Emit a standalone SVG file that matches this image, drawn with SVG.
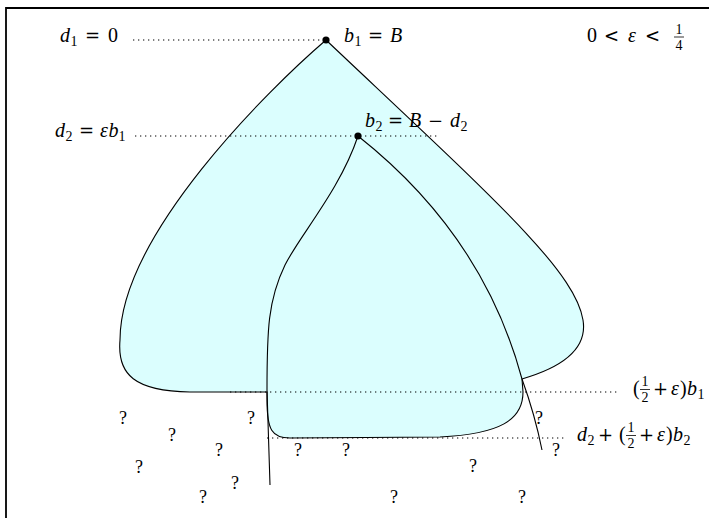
<svg xmlns="http://www.w3.org/2000/svg" width="709" height="518" viewBox="0 0 709 518">
<style>
text{font-family:"Liberation Serif","DejaVu Serif",serif;font-size:20px;fill:#000}
.i{font-style:italic}
.o{font-family:"DejaVu Serif",serif;font-size:18px}
.s{font-size:14px}
.f{font-size:14px;text-anchor:middle}
.q{font-size:18px;text-anchor:middle}
.dot{fill:none;stroke:#000;stroke-width:1.2;stroke-dasharray:1.3 3.7}
.ln{fill:none;stroke:#000;stroke-width:1.1}
.rg{fill:#dbfefe;stroke:#000;stroke-width:1.1}
.fl{stroke:#000;stroke-width:0.8}
</style>
<rect width="709" height="518" fill="#fff"/>
<path d="M6,518 L6,8 L709,8" fill="none" stroke="#000" stroke-width="1.8"/>
<g id="region">
<path class="rg" d="M326,40 C270,88 120,235 120,340 C117,375 135,391 190,392 L267,392 L267,400 C267,430 272,438 290,438 L440,437 C500,434 523,420 523,392 L522,379 C560,368 588,350 583,320 C575,270 490,195 326,40 Z"/>
</g>
<g id="connectors">
<path class="ln" d="M358,136 C340,190 300,235 285,265 C268,300 267,330 267,390 L270,485"/>
<path class="ln" d="M358,136 C420,185 490,260 522,379 Q535,415 542,450"/>
<line class="dot" x1="133" y1="40" x2="322" y2="40"/>
<line class="dot" x1="135" y1="136" x2="440" y2="136"/>
<line class="dot" x1="230" y1="392" x2="617" y2="392"/>
<line class="dot" x1="267" y1="438" x2="565" y2="438"/>
</g>
<g id="b1">
<circle cx="326" cy="40" r="3.6"/>
<text y="42"><tspan class="i" x="344">b</tspan><tspan class="s" x="354.5" y="46">1</tspan><tspan class="o" x="368" y="42">=</tspan><tspan class="i" x="390">B</tspan></text>
</g>
<g id="b2">
<circle cx="358" cy="136" r="3.6"/>
<text y="127"><tspan class="i" x="365">b</tspan><tspan class="s" x="375.5" y="131">2</tspan><tspan class="o" x="388" y="127">=</tspan><tspan class="i" x="409">B</tspan><tspan class="o" x="428">−</tspan><tspan class="i" x="450">d</tspan><tspan class="s" x="460.5" y="131">2</tspan></text>
</g>
<g id="d1">
<text y="42"><tspan class="i" x="60">d</tspan><tspan class="s" x="70.5" y="46">1</tspan><tspan class="o" x="85" y="42">=</tspan><tspan x="108">0</tspan></text>
</g>
<g id="d2">
<text y="137"><tspan class="i" x="55">d</tspan><tspan class="s" x="65.5" y="141">2</tspan><tspan class="o" x="79" y="137">=</tspan><tspan class="i" x="100">ε</tspan><tspan class="i" x="108.5">b</tspan><tspan class="s" x="118.5" y="141">1</tspan></text>
</g>
<g id="eps">
<text y="42"><tspan x="587">0</tspan><tspan class="o" x="604">&lt;</tspan><tspan class="i" x="628">ε</tspan><tspan class="o" x="645">&lt;</tspan></text>
<text class="f" x="679" y="34">1</text>
<line class="fl" x1="674" y1="37" x2="684" y2="37"/>
<text class="f" x="679" y="50">4</text>
</g>
<g id="lvl1">
<text y="395"><tspan x="633">(</tspan><tspan class="o" x="653">+</tspan><tspan class="i" x="671">ε</tspan><tspan x="680">)</tspan><tspan class="i" x="687">b</tspan><tspan class="s" x="697.5" y="399">1</tspan></text>
<text class="f" x="645" y="386">1</text>
<line class="fl" x1="640" y1="389.5" x2="650" y2="389.5"/>
<text class="f" x="645" y="402">2</text>
</g>
<g id="lvl2">
<text y="441"><tspan class="i" x="577">d</tspan><tspan class="s" x="587.5" y="445">2</tspan><tspan class="o" x="598" y="441">+</tspan><tspan x="619">(</tspan><tspan class="o" x="639">+</tspan><tspan class="i" x="657">ε</tspan><tspan x="666">)</tspan><tspan class="i" x="673">b</tspan><tspan class="s" x="683.5" y="445">2</tspan></text>
<text class="f" x="631" y="432">1</text>
<line class="fl" x1="626" y1="435.5" x2="636" y2="435.5"/>
<text class="f" x="631" y="448">2</text>
</g>
<g id="unknowns">
<text class="q" x="123" y="424">?</text>
<text class="q" x="172" y="441">?</text>
<text class="q" x="251" y="424">?</text>
<text class="q" x="219" y="456">?</text>
<text class="q" x="139" y="473">?</text>
<text class="q" x="235" y="489">?</text>
<text class="q" x="203" y="503">?</text>
<text class="q" x="298" y="456">?</text>
<text class="q" x="346" y="456">?</text>
<text class="q" x="473" y="472">?</text>
<text class="q" x="394" y="503">?</text>
<text class="q" x="522" y="503">?</text>
<text class="q" x="539" y="424">?</text>
<text class="q" x="556" y="456">?</text>
</g>
</svg>
